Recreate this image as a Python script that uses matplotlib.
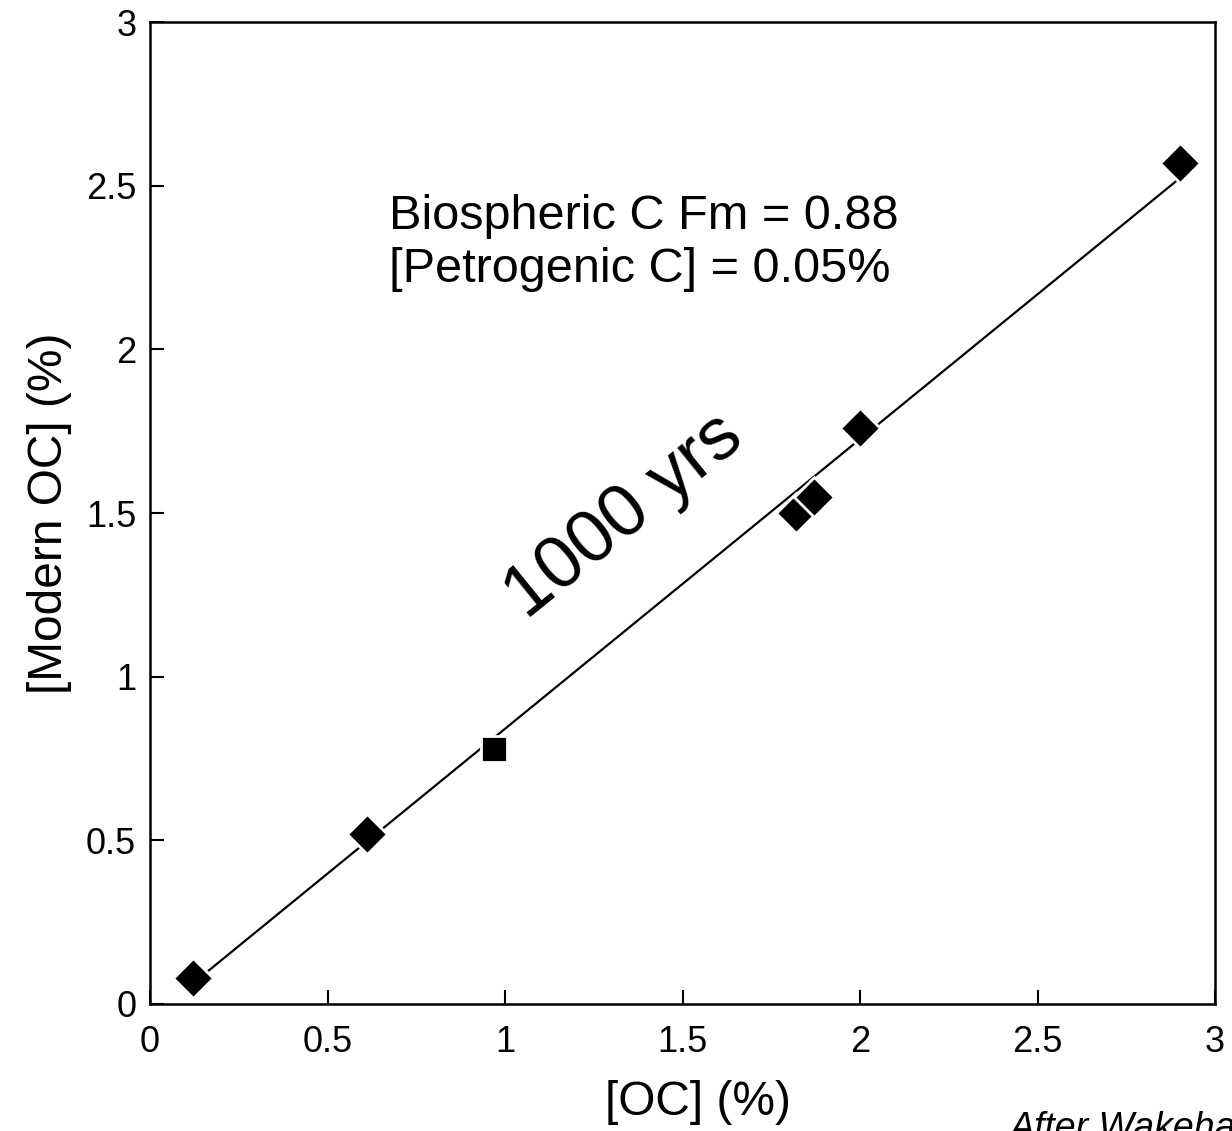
import matplotlib
matplotlib.use("Agg")
import matplotlib.pyplot as plt
import numpy as np

plt.rcParams['font.family'] = ['Liberation Sans', 'DejaVu Sans']

# data
oc_diamond = [0.12, 0.61, 1.82, 1.87, 2.00, 2.90]
mod_diamond = [0.08, 0.52, 1.50, 1.55, 1.76, 2.57]
oc_square = [0.97]
mod_square = [0.78]

fm_slope = 0.885
fit_intercept = -0.044
fit_x = [0.16, 2.89]

ticks = [0, 0.5, 1, 1.5, 2, 2.5, 3]
tick_labels = ["0", "0.5", "1", "1.5", "2", "2.5", "3"]

fig = plt.figure(figsize=(12.32, 11.31), dpi=100)
ax = fig.add_axes([0.1218, 0.1123, 0.8645, 0.8682])

fx = np.array(fit_x)
ax.plot(fx, fm_slope * fx + fit_intercept, color="black", lw=1.6, zorder=1)

ax.plot(oc_diamond, mod_diamond, ls="none", marker="D", ms=20, color="black",
        mec="white", mew=2, zorder=3)
ax.plot(oc_square, mod_square, ls="none", marker="s", ms=19, color="black",
        mec="white", mew=2, zorder=3)

ax.set_xlim(0, 3)
ax.set_ylim(0, 3)
ax.set_xticks(ticks)
ax.set_xticklabels(tick_labels)
ax.set_yticks(ticks)
ax.set_yticklabels(tick_labels)
ax.tick_params(direction="in", length=10, width=1.5, labelsize=26)
ax.tick_params(axis="x", pad=15)
ax.tick_params(axis="y", pad=10)
for s in ax.spines.values():
    s.set_linewidth(1.8)

ax.set_xlabel("[OC] (%)", fontsize=34.5)
ax.xaxis.set_label_coords(0.514, -0.077, transform=ax.transAxes)
ax.set_ylabel("[Modern OC] (%)", fontsize=34.5, labelpad=10)

ax.text(0.674, 2.475, "Biospheric C Fm = 0.88\n[Petrogenic C] = 0.05%",
        fontsize=35, va="top", ha="left", linespacing=1.22)
ax.text(1.335, 1.49, "1000 yrs", fontsize=53, rotation=39,
        ha="center", va="center", rotation_mode="anchor")

fig.text(0.82, 0.018, "After Wakeham et al.", fontsize=27, style="italic",
         ha="left", va="top")

fig.savefig("out.png", dpi=100)
